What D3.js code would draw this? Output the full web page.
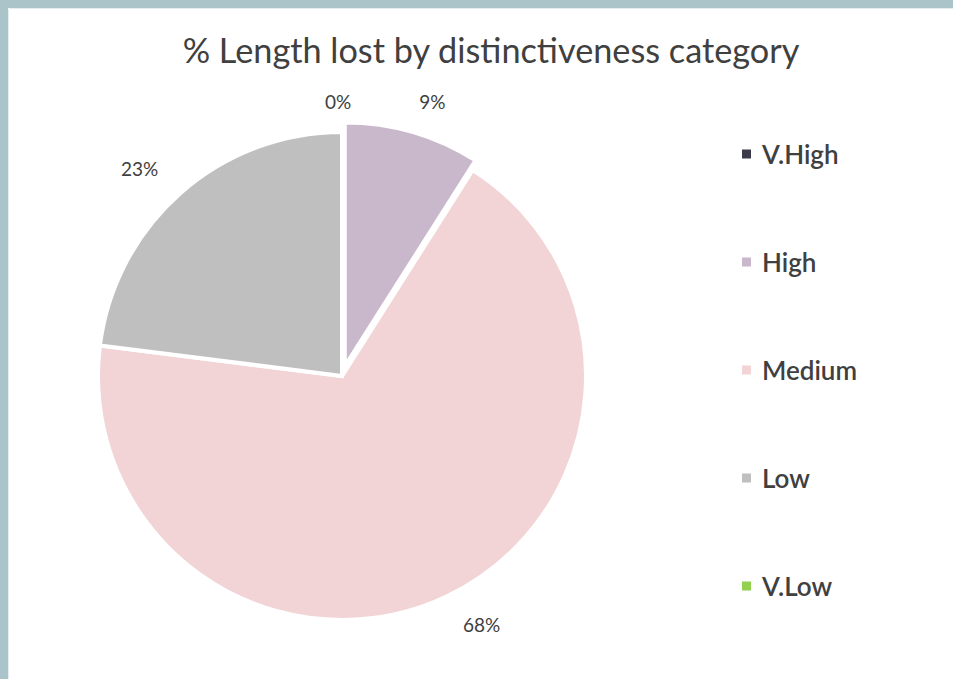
<!DOCTYPE html>
<html>
<head>
<meta charset="utf-8">
<script src="https://cdn.jsdelivr.net/npm/d3@7"></script>
<style>
  html, body { margin: 0; padding: 0; background: #ffffff; }
  svg { display: block; }
</style>
</head>
<body>
<script>
// Share of length lost, by distinctiveness category
const categories = ["V.High", "High", "Medium", "Low", "V.Low"];
const values = [0, 9, 68, 23, 0];
const colors = ["#3b3b4b", "#c9b8cb", "#f2d4d6", "#bfbfbf", "#92d050"];
const titleText = "% Length lost by distinctiveness category";

const W = 953, H = 679;
const svg = d3.select("body").append("svg").attr("width", W).attr("height", H);
const FONT = "Lato, 'Open Sans', sans-serif";

// frame
svg.append("rect").attr("x", 0).attr("y", 0).attr("width", W).attr("height", H).attr("fill", "#abc4ca");
svg.append("rect").attr("x", 8).attr("y", 8).attr("width", W - 8).attr("height", H - 8).attr("fill", "#ffffff");
svg.append("line").attr("x1", 9).attr("x2", W).attr("y1", 8.5).attr("y2", 8.5).attr("stroke", "#e4eef0").attr("stroke-width", 1);
svg.append("line").attr("x1", 8.5).attr("x2", 8.5).attr("y1", 9).attr("y2", H).attr("stroke", "#e4eef0").attr("stroke-width", 1);

// title, sized to span its box
const title = svg.append("text")
  .attr("x", 491).attr("y", 63)
  .attr("text-anchor", "middle")
  .attr("font-family", FONT).attr("font-size", 30)
  .attr("fill", "#404040")
  .text(titleText);
const tw = title.node().getComputedTextLength();
title.attr("font-size", 30 * 617 / tw);

// pie
const cx = 342, cy = 376, R = 244;
const data = categories.map((c, i) => ({ cat: c, value: values[i], color: colors[i] }));
const pie = d3.pie().value(d => d.value).sort(null);
const arcs = pie(data);
const arc = d3.arc().innerRadius(0).outerRadius(R);
const labelArc = d3.arc().innerRadius(288).outerRadius(288);
const explode = { "High": 10 };

const g = svg.append("g").attr("transform", `translate(${cx},${cy})`);
g.selectAll("path.slice")
  .data(arcs.filter(a => a.value > 0))
  .join("path")
  .attr("class", "slice")
  .attr("d", arc)
  .attr("fill", d => d.data.color)
  .attr("stroke", "#ffffff")
  .attr("stroke-width", 4)
  .attr("stroke-linejoin", "miter")
  .attr("transform", d => {
    const off = explode[d.data.cat] || 0;
    const m = (d.startAngle + d.endAngle) / 2;
    return `translate(${off * Math.sin(m)},${-off * Math.cos(m)})`;
  });

// value labels (the trailing zero slice shares its spot with the first one)
const labelShift = { "High": [10, 2], "V.High": [-4, 13], "Medium": [17, -12], "Low": [-12, 9] };
g.selectAll("text.lbl")
  .data(arcs.filter(a => a.data.cat !== "V.Low"))
  .join("text")
  .attr("class", "lbl")
  .attr("transform", d => {
    const [x, y] = labelArc.centroid(d);
    const s = labelShift[d.data.cat] || [0, 0];
    return `translate(${x + s[0]},${y + s[1]})`;
  })
  .attr("text-anchor", "middle")
  .attr("dominant-baseline", "central")
  .attr("font-family", FONT).attr("font-size", 19)
  .attr("fill", "#404040")
  .text(d => Math.round(d.data.value / d3.sum(values) * 100) + "%");

// legend
const ly = d3.scalePoint().domain(categories).range([154, 586]);
const leg = svg.append("g");
const item = leg.selectAll("g").data(data).join("g")
  .attr("transform", d => `translate(742,${ly(d.cat)})`);
item.append("rect")
  .attr("x", 0).attr("y", -4.5).attr("width", 9).attr("height", 9)
  .attr("fill", d => d.color);
item.append("text")
  .attr("x", 20).attr("y", 0)
  .attr("dominant-baseline", "central")
  .attr("font-family", FONT).attr("font-size", 26).attr("font-weight", 600)
  .attr("fill", "#404040")
  .text(d => d.cat);
</script>
</body>
</html>
